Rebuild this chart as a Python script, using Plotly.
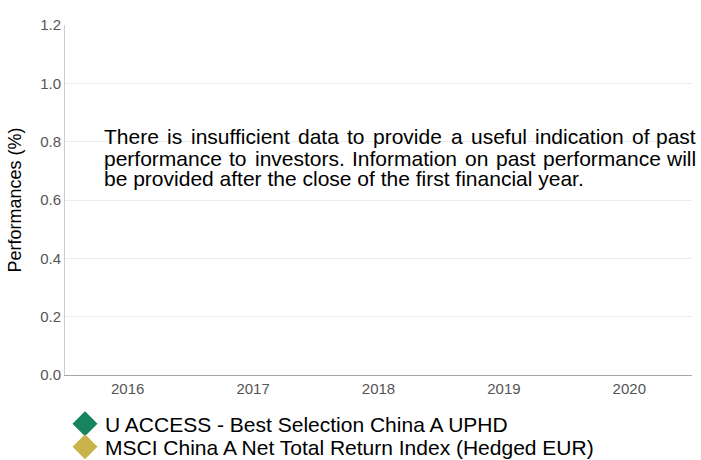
import plotly.graph_objects as go

years = ["2016", "2017", "2018", "2019", "2020"]
fund_values = [None, None, None, None, None]
index_values = [None, None, None, None, None]
series_names = ["U ACCESS - Best Selection China A UPHD",
                "MSCI China A Net Total Return Index (Hedged EUR)"]
series_colors = ["#168460", "#C8B44B"]
y_ticks = [0.0, 0.2, 0.4, 0.6, 0.8, 1.0, 1.2]
message_lines = [
    "There is insufficient data to provide a useful indication of past",
    "performance to investors. Information on past performance will",
    "be provided after the close of the first financial year.",
]

W, H = 701, 460
PL, PR, PT, PB = 65, 692, 25, 375          # plot box in pixels
L, T = PL, PT
R = W - PR
B = H - PB
plot_h = PB - PT
plot_w = PR - PL

def py_to_paper(py):
    return (PB - py) / plot_h

def px_to_paper(px):
    return (px - PL) / plot_w

# Arial / Liberation Sans advance widths (1/1000 em), for justifying the message text
ADV = {" ": 278, ".": 278, ",": 278, "-": 333, "(": 333, ")": 333,
       "a": 556, "b": 556, "c": 500, "d": 556, "e": 556, "f": 278, "g": 556, "h": 556,
       "i": 222, "j": 222, "k": 500, "l": 222, "m": 833, "n": 556, "o": 556, "p": 556,
       "q": 556, "r": 333, "s": 500, "t": 278, "u": 556, "v": 500, "w": 722, "x": 500,
       "y": 500, "z": 500, "I": 278, "T": 611}

MSG_FONT = 21
TEXT_LEFT, TEXT_RIGHT = 103, 696.5
baselines = [144.0, 165.3, 186.0]
msg_font = dict(family="Liberation Sans, Arial, sans-serif", size=MSG_FONT, color="#000000")

def word_w(w):
    return sum(ADV.get(ch, 556) for ch in w) / 1000 * MSG_FONT

fig = go.Figure()
for i, (name, vals, col) in enumerate(zip(series_names, [fund_values, index_values], series_colors)):
    fig.add_trace(go.Scatter(
        x=years, y=vals, name=name, mode="markers",
        marker=dict(symbol="diamond", size=16, color=col, line=dict(color=col, width=3)),
        legend="legend" if i == 0 else "legend2",
        showlegend=True,
    ))

for li, (line, bl) in enumerate(zip(message_lines, baselines)):
    cy = bl - 0.3465 * MSG_FONT
    ypap = py_to_paper(cy)
    if li < len(message_lines) - 1:
        # justified line: spread words across the full width
        words = line.split(" ")
        total = sum(word_w(w) for w in words)
        gap = (TEXT_RIGHT - TEXT_LEFT - total) / (len(words) - 1)
        xpos = TEXT_LEFT
        for wi, w in enumerate(words):
            last = wi == len(words) - 1
            fig.add_annotation(
                text=w, xref="paper", yref="paper",
                x=px_to_paper(TEXT_RIGHT if last else xpos), y=ypap,
                xanchor="right" if last else "left", yanchor="middle",
                showarrow=False, font=msg_font, borderpad=0,
            )
            xpos += word_w(w) + gap
    else:
        fig.add_annotation(
            text=line, xref="paper", yref="paper",
            x=px_to_paper(TEXT_LEFT), y=ypap,
            xanchor="left", yanchor="middle", showarrow=False,
            font=msg_font, borderpad=0, align="left",
        )

legend_common = dict(
    orientation="v", xref="paper", yref="paper", xanchor="left", yanchor="middle",
    font=dict(family="Liberation Sans, Arial, sans-serif", size=21, color="#000000"),
    bgcolor="rgba(0,0,0,0)", borderwidth=0, itemclick=False,
)
fig.update_layout(
    width=W, height=H,
    margin=dict(l=L, r=R, t=T, b=B, autoexpand=False),
    paper_bgcolor="white", plot_bgcolor="white",
    font=dict(family="Liberation Sans, Arial, sans-serif"),
    xaxis=dict(
        type="category", categoryorder="array", categoryarray=years,
        range=[-0.5, len(years) - 0.5], automargin=False,
        showgrid=False, showline=True, linecolor="#a6a6a6", linewidth=1,
        ticks="", tickfont=dict(size=15, color="#555555"), zeroline=False,
        fixedrange=True,
    ),
    yaxis=dict(
        range=[0, 1.2], tickvals=y_ticks, ticktext=[f"{v:.1f}" for v in y_ticks],
        automargin=False,
        showgrid=True, gridcolor="#ebebeb", gridwidth=1,
        showline=True, linecolor="#cccccc", linewidth=1,
        ticks="", tickfont=dict(size=15, color="#555555"), zeroline=False,
        title=dict(text="Performances (%)", font=dict(size=18, color="#000000"), standoff=13),
        fixedrange=True,
    ),
    legend=dict(x=0, y=py_to_paper(424), **legend_common),
    legend2=dict(x=0, y=py_to_paper(447), **legend_common),
)

fig.write_html(
    "out.html",
    config={"displayModeBar": False},
    post_script="document.body.style.margin='0';document.body.style.overflow='hidden';",
)
